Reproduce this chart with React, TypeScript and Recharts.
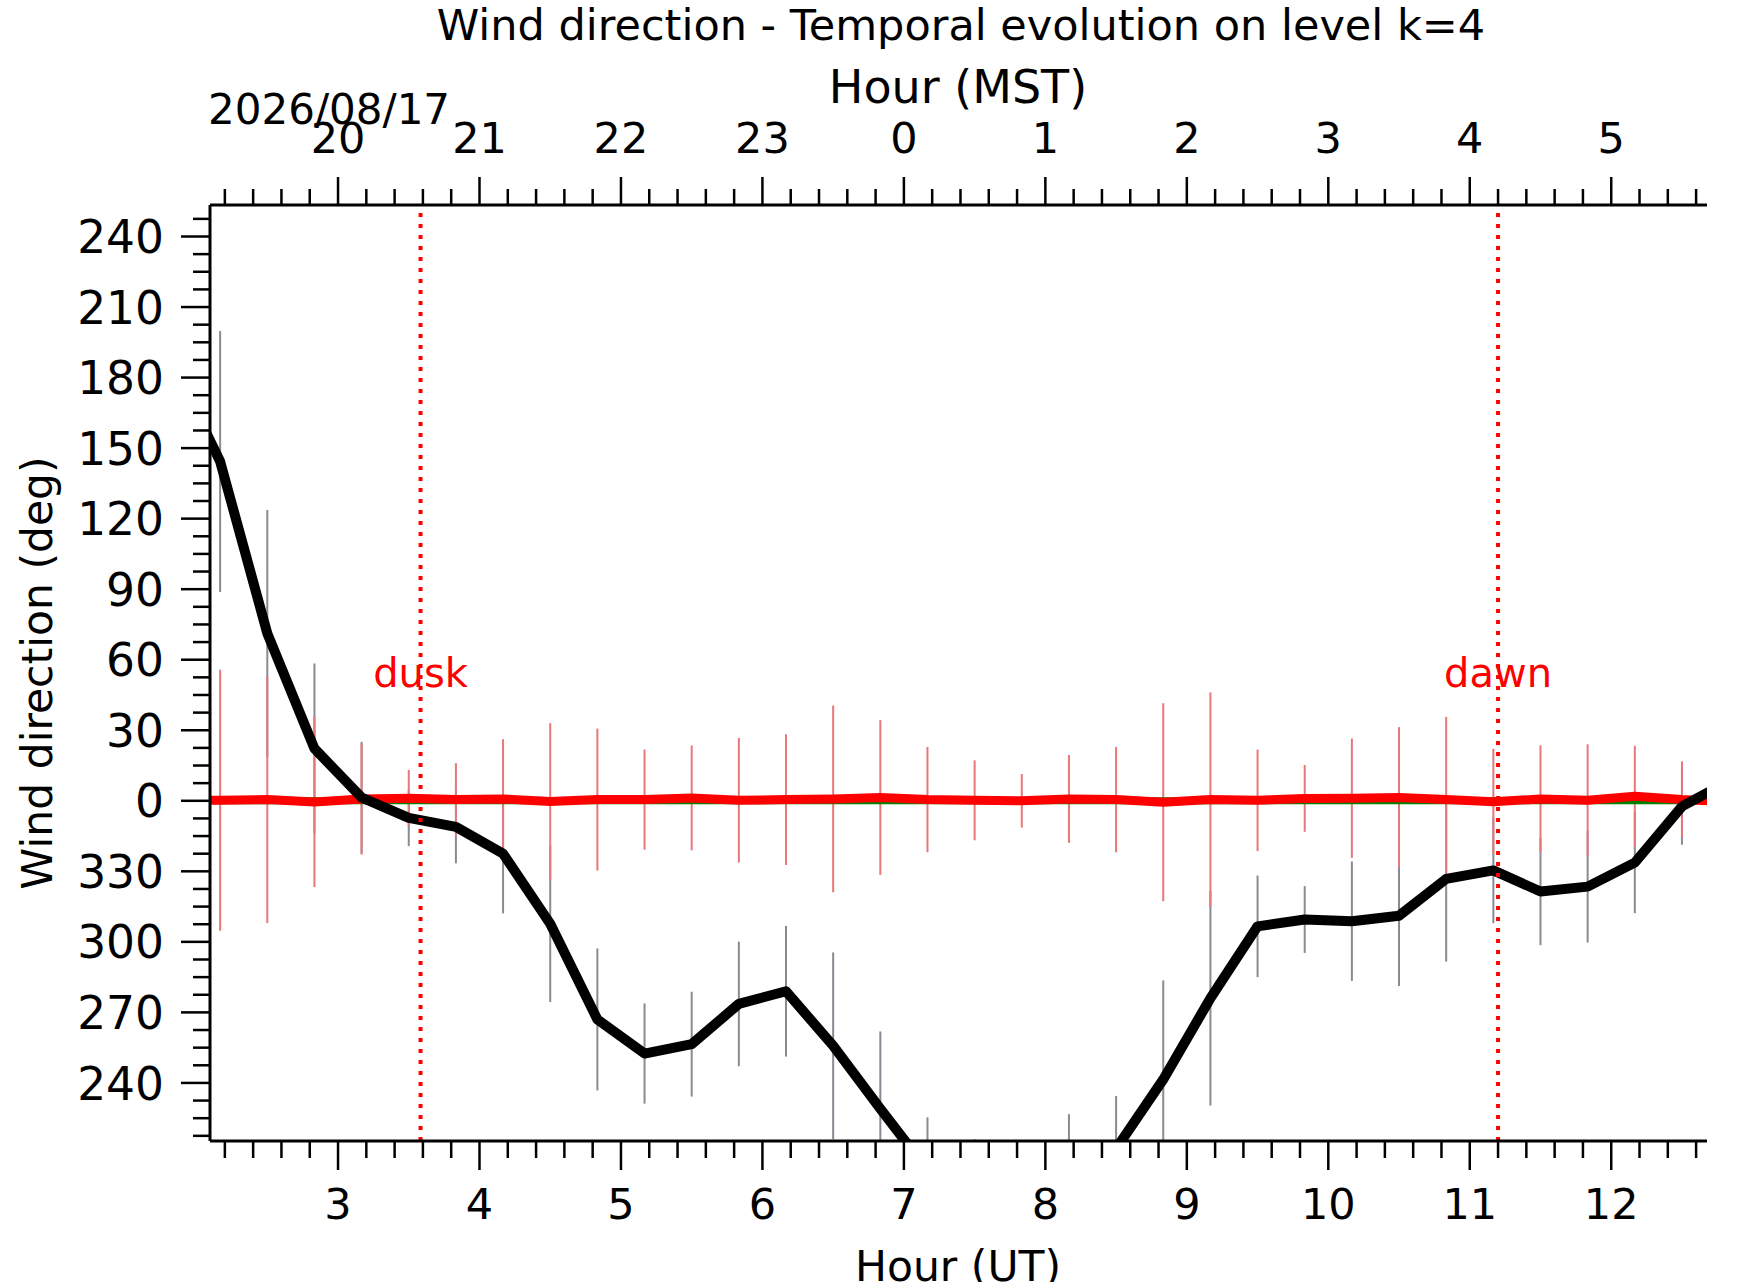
import React from 'react';
import { LineChart, Line, XAxis, YAxis, ErrorBar, ReferenceLine, ReferenceDot } from 'recharts';

// ---- data (UT times, 20-min steps) ----
const TIME_LABELS = ['01:50','02:10','02:30','02:50','03:10','03:30','03:50','04:10','04:30','04:50','05:10','05:30','05:50','06:10','06:30','06:50','07:10','07:30','07:50','08:10','08:30','08:50','09:10','09:30','09:50','10:10','10:30','10:50','11:10','11:30','11:50','12:10','12:30','12:50'];
// wind direction, plotted as signed degrees (negative = 360 + value)
const DIRECTION = [186, 144.3, 71.2, 22.2, 1.4, -7.3, -11.1, -22.5, -52.3, -93, -107.5, -103.5, -86.4, -81, -104.2, -131, -157, -161, -165, -152, -148, -118.5, -84, -53.4, -50.5, -51.2, -48.9, -33.2, -29.6, -38.6, -36.5, -26.3, -2.4, 8.5];
// standard deviation (deg)
const STD = [0, 55.5, 52.5, 36.2, 23.7, 12, 15.5, 25.4, 33.3, 30.2, 21.3, 22.3, 26.5, 27.8, 39.7, 32.9, 22.4, 17, 11.4, 18.7, 22.4, 42.1, 45.6, 21.6, 14.2, 25.4, 29.9, 35.2, 22.5, 22.8, 23.8, 21.5, 16.3, 0];
// reference (red) series
const REFERENCE = [0.5, 0.2, 0.5, -0.5, 0.8, 1.1, 0.5, 0.8, -0.3, 0.5, 0.5, 1.2, 0.2, 0.5, 0.8, 1.4, 0.5, 0.2, 0, 0.8, 0.5, -0.6, 0.5, 0.2, 1.0, 1.1, 1.4, 0.5, -0.4, 0.8, 0.2, 1.9, 0.5, -0.4];
const ZERO_LEVEL = 0;

const DUSK_UT = 3 + 35 / 60;
const DAWN_UT = 11 + 12 / 60;
const LABEL_LEVEL = 48.5;

const X_DOMAIN: [number, number] = [2.095, 12.677];
const Y_DOMAIN: [number, number] = [-144.7, 253.4];

const X_MAJOR = [3, 4, 5, 6, 7, 8, 9, 10, 11, 12];
const Y_MAJOR = [-120, -90, -60, -30, 0, 30, 60, 90, 120, 150, 180, 210, 240];
const UT_TO_MST = -7;

const TITLE = 'Wind direction - Temporal evolution on level k=4';
const DATE_LABEL = '2026/08/17';

// minor ticks: 5 per hour on x, 4 per 30 deg on y
const X_TICKS: number[] = [];
for (let i = Math.ceil(X_DOMAIN[0] * 5); i <= Math.floor(X_DOMAIN[1] * 5); i++) X_TICKS.push(i / 5);
const Y_TICKS: number[] = [];
for (let i = Math.ceil(Y_DOMAIN[0] / 7.5); i <= Math.floor(Y_DOMAIN[1] / 7.5); i++) Y_TICKS.push(i * 7.5);

const toHours = (s: string) => {
  const [h, m] = s.split(':').map(Number);
  return h + m / 60;
};

// error extents, clipped to the visible value range (as the plot area clips them)
const clipErr = (c: number, s: number): [number, number] => {
  const clamp = (v: number) => Math.min(Math.max(v, Y_DOMAIN[0]), Y_DOMAIN[1]);
  const lo = clamp(c - s);
  const hi = clamp(c + s);
  return [c - lo, hi - c];
};

const rows = TIME_LABELS.map((s, i) => ({
  t: toHours(s),
  dir: DIRECTION[i],
  ref: REFERENCE[i],
  zero: ZERO_LEVEL,
  dirErr: clipErr(DIRECTION[i], STD[i]),
  refErr: clipErr(REFERENCE[i], STD[i]),
}));

const FONT = '"DejaVu Sans", sans-serif';
const GRAY = '#878b93';
const LIGHTRED = '#e8777a';

const isMajorX = (v: number) => X_MAJOR.some((m) => Math.abs(m - v) < 1e-6);
const isMajorY = (v: number) => Y_MAJOR.some((m) => Math.abs(m - v) < 1e-6);

const BottomTick = (props: any) => {
  const { x, y, payload } = props;
  const v = payload.value;
  const major = isMajorX(v);
  return (
    <g>
      <line x1={x} y1={y} x2={x} y2={y + (major ? 29 : 17)} stroke="#000" strokeWidth={2.5} />
      {major && (
        <text x={x} y={y + 78} textAnchor="middle" fontSize={43} fontFamily={FONT} fill="#000">
          {Math.round(v)}
        </text>
      )}
    </g>
  );
};

const TopTick = (props: any) => {
  const { x, y, payload } = props;
  const v = payload.value;
  const major = isMajorX(v);
  const mst = (((Math.round(v) + UT_TO_MST) % 24) + 24) % 24;
  return (
    <g>
      <line x1={x} y1={y} x2={x} y2={y - (major ? 28 : 16)} stroke="#000" strokeWidth={2.5} />
      {major && (
        <text x={x} y={y - 52.5} textAnchor="middle" fontSize={43} fontFamily={FONT} fill="#000">
          {mst}
        </text>
      )}
    </g>
  );
};

const LeftTick = (props: any) => {
  const { x, y, payload } = props;
  const v = payload.value;
  const major = isMajorY(v);
  const lbl = v < 0 ? Math.round(v + 360) : Math.round(v);
  return (
    <g>
      <line x1={x} y1={y} x2={x - (major ? 29 : 17)} y2={y} stroke="#000" strokeWidth={2.5} />
      {major && (
        <text x={x - 46} y={y} dy="0.365em" textAnchor="end" fontSize={45.5} fontFamily={FONT} fill="#000">
          {lbl}
        </text>
      )}
    </g>
  );
};

const marker = (text: string) => (p: any) => (
  <text x={p.cx} y={p.cy} textAnchor="middle" fontSize={40} fontFamily={FONT} fill="#ff0000">
    {text}
  </text>
);

export default function App() {
  return (
    <div style={{ position: 'relative', width: 1742, height: 1282, background: '#fff' }}>
      <style>{'body{margin:0;background:#fff}'}</style>
      <LineChart width={1742} height={1282} data={rows} margin={{ top: 105, right: 35, bottom: 41, left: 10 }}>
        <XAxis
          xAxisId="bottom"
          dataKey="t"
          type="number"
          orientation="bottom"
          domain={X_DOMAIN}
          allowDataOverflow
          ticks={X_TICKS}
          interval={0}
          tickSize={0}
          tickMargin={0}
          tickLine={false}
          tick={<BottomTick />}
          axisLine={{ stroke: '#000', strokeWidth: 3 }}
          height={100}
        />
        <XAxis
          xAxisId="top"
          dataKey="t"
          type="number"
          orientation="top"
          domain={X_DOMAIN}
          allowDataOverflow
          ticks={X_TICKS}
          interval={0}
          tickSize={0}
          tickMargin={0}
          tickLine={false}
          tick={<TopTick />}
          axisLine={{ stroke: '#000', strokeWidth: 3 }}
          height={100}
        />
        <YAxis
          yAxisId="left"
          type="number"
          domain={Y_DOMAIN}
          allowDataOverflow
          ticks={Y_TICKS}
          interval={0}
          tickSize={0}
          tickMargin={0}
          tickLine={false}
          tick={<LeftTick />}
          axisLine={{ stroke: '#000', strokeWidth: 3 }}
          width={200}
        />
        <YAxis
          yAxisId="right"
          orientation="right"
          type="number"
          domain={Y_DOMAIN}
          allowDataOverflow
          tick={false}
          tickLine={false}
          axisLine={{ stroke: '#000', strokeWidth: 3 }}
          width={0}
        />

        <Line xAxisId="bottom" yAxisId="left" dataKey="dir" stroke="none" strokeWidth={0} dot={false} activeDot={false} isAnimationActive={false}>
          <ErrorBar dataKey="dirErr" width={0} stroke={GRAY} strokeWidth={2} direction="y" isAnimationActive={false} />
        </Line>
        <Line xAxisId="bottom" yAxisId="left" dataKey="ref" stroke="none" strokeWidth={0} dot={false} activeDot={false} isAnimationActive={false}>
          <ErrorBar dataKey="refErr" width={0} stroke={LIGHTRED} strokeWidth={2} direction="y" isAnimationActive={false} />
        </Line>
        <Line xAxisId="bottom" yAxisId="left" dataKey="zero" stroke="#008000" strokeWidth={7} dot={false} activeDot={false} isAnimationActive={false} />
        <Line xAxisId="bottom" yAxisId="left" dataKey="ref" stroke="#ff0000" strokeWidth={9} strokeLinejoin="round" dot={false} activeDot={false} isAnimationActive={false} />
        <Line xAxisId="bottom" yAxisId="left" dataKey="dir" stroke="#000" strokeWidth={10} strokeLinejoin="round" dot={false} activeDot={false} isAnimationActive={false} />

        <ReferenceLine xAxisId="bottom" yAxisId="left" x={DUSK_UT} stroke="#ff0000" strokeWidth={4} strokeDasharray="4 7" />
        <ReferenceLine xAxisId="bottom" yAxisId="left" x={DAWN_UT} stroke="#ff0000" strokeWidth={4} strokeDasharray="4 7" />
        <ReferenceDot xAxisId="bottom" yAxisId="left" x={DUSK_UT} y={LABEL_LEVEL} r={1} shape={marker('dusk')} />
        <ReferenceDot xAxisId="bottom" yAxisId="left" x={DAWN_UT} y={LABEL_LEVEL} r={1} shape={marker('dawn')} />
      </LineChart>

      <svg width={1742} height={1282} style={{ position: 'absolute', left: 0, top: 0, pointerEvents: 'none' }}>
        <g fontFamily={FONT} fill="#000">
          <text x={961} y={40} textAnchor="middle" fontSize={43}>{TITLE}</text>
          <text x={958} y={103} textAnchor="middle" fontSize={46}>Hour (MST)</text>
          <text x={208} y={124} textAnchor="start" fontSize={42}>{DATE_LABEL}</text>
          <text x={958} y={1281} textAnchor="middle" fontSize={42.5}>Hour (UT)</text>
          <text x={52} y={673} textAnchor="middle" fontSize={42.5} transform="rotate(-90 52 673)">Wind direction (deg)</text>
        </g>
      </svg>
    </div>
  );
}
